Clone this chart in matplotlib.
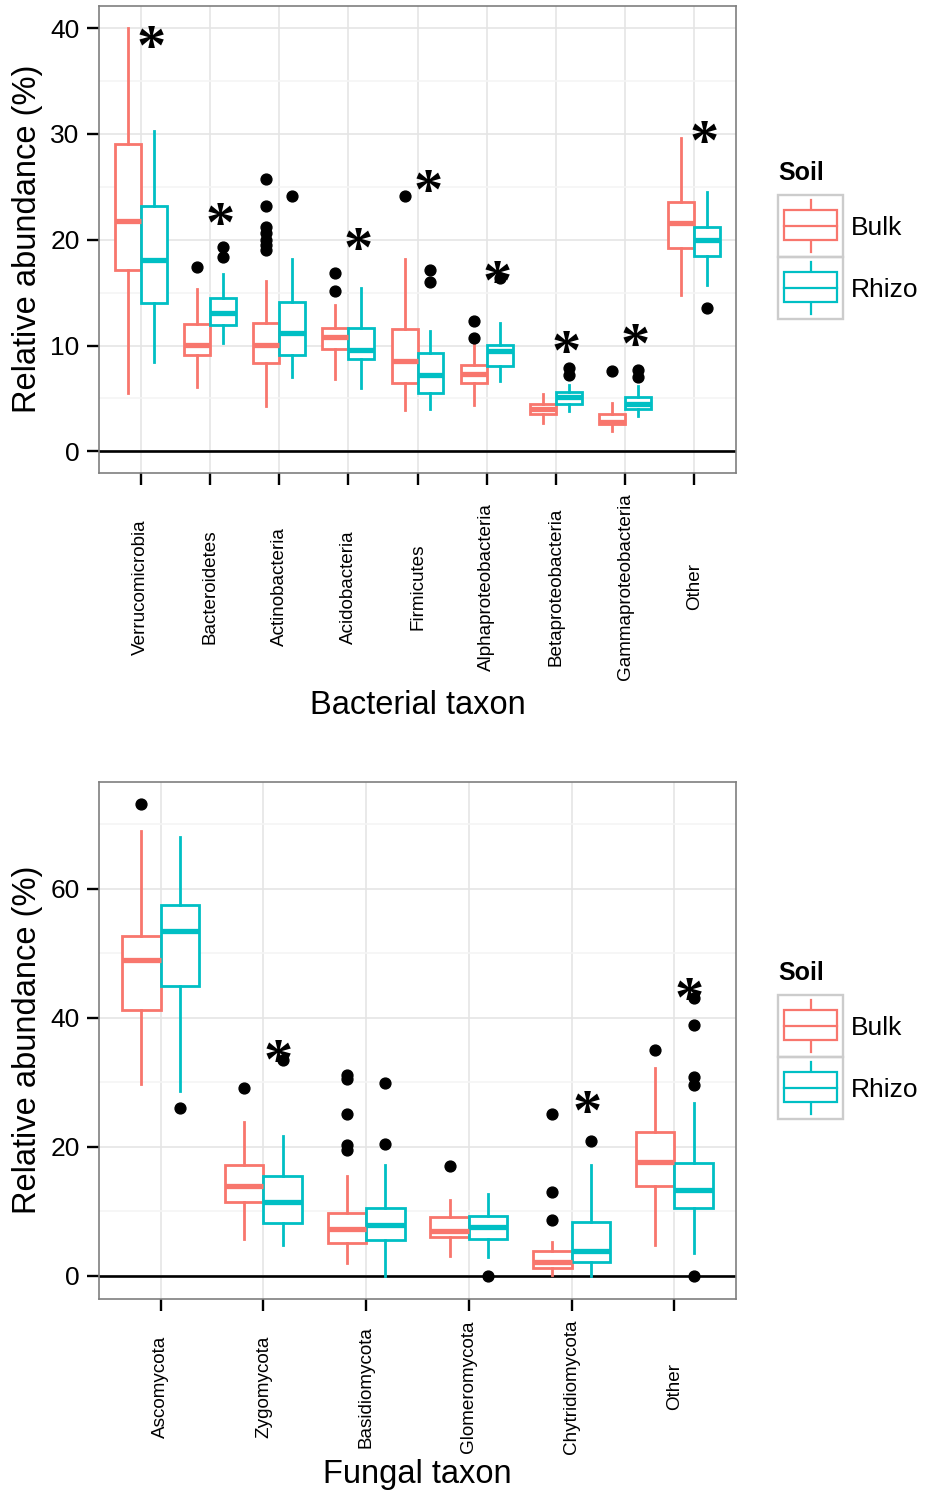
import numpy as np
import matplotlib
matplotlib.use("Agg")
import matplotlib.pyplot as plt
from matplotlib.patches import Rectangle
from matplotlib.transforms import ScaledTranslation

plt.rcParams['font.family'] = ['Liberation Sans', 'DejaVu Sans']

# ---------------- data ----------------
soil_groups = ['Bulk', 'Rhizo']
soil_colors = ['#F8766D', '#00BFC4']

bact_taxa = ['Verrucomicrobia', 'Bacteroidetes', 'Actinobacteria', 'Acidobacteria',
             'Firmicutes', 'Alphaproteobacteria', 'Betaproteobacteria',
             'Gammaproteobacteria', 'Other']
bact_bulk_lo  = [5.5, 6.1, 4.3, 6.8, 3.9, 4.35, 2.7, 1.95, 14.8]
bact_bulk_q1  = [17.1, 9.1, 8.35, 9.7, 6.5, 6.5, 3.5, 2.55, 19.2]
bact_bulk_med = [21.8, 10.1, 10.1, 10.85, 8.5, 7.35, 4.0, 2.8, 21.55]
bact_bulk_q3  = [29.05, 12.0, 12.1, 11.7, 11.6, 8.2, 4.45, 3.5, 23.55]
bact_bulk_hi  = [40.0, 15.3, 16.1, 13.8, 18.2, 10.2, 5.4, 4.6, 29.6]
bact_bulk_out = [[], [17.4], [25.7, 23.2, 21.2, 20.6, 20.0, 19.5, 19.0], [16.9, 15.2],
                 [24.1], [12.3, 10.7], [], [7.55], []]
bact_rhizo_lo  = [8.4, 10.2, 7.0, 6.0, 4.0, 6.65, 3.8, 3.35, 15.7]
bact_rhizo_q1  = [14.0, 11.9, 9.1, 8.7, 5.5, 8.1, 4.5, 4.05, 18.5]
bact_rhizo_med = [18.1, 13.05, 11.2, 9.6, 7.25, 9.5, 5.1, 4.5, 20.0]
bact_rhizo_q3  = [23.2, 14.5, 14.15, 11.7, 9.3, 10.1, 5.6, 5.1, 21.25]
bact_rhizo_hi  = [30.3, 16.75, 18.2, 15.4, 11.4, 12.1, 6.3, 6.2, 24.5]
bact_rhizo_out = [[], [19.3, 18.4], [24.1], [], [17.1, 16.0], [16.4], [7.9, 7.2],
                  [7.65, 7.0], [13.55]]
bact_sig = [39.1, 22.4, None, 20.0, 25.5, 16.9, 10.3, 10.9, 30.1]

fung_taxa = ['Ascomycota', 'Zygomycota', 'Basidiomycota', 'Glomeromycota',
             'Chytridiomycota', 'Other']
fung_bulk_lo  = [29.7, 5.7, 2.0, 3.15, 0.1, 4.8]
fung_bulk_q1  = [41.2, 11.5, 5.05, 5.95, 1.2, 13.85]
fung_bulk_med = [48.9, 14.0, 7.3, 6.9, 2.2, 17.7]
fung_bulk_q3  = [52.7, 17.2, 9.7, 9.2, 3.8, 22.3]
fung_bulk_hi  = [68.9, 23.8, 15.4, 11.7, 5.3, 32.2]
fung_bulk_out = [[73.1], [29.1], [31.1, 30.5, 25.1, 20.3, 19.5], [16.95],
                 [25.0, 13.0, 8.7], [35.0]]
fung_rhizo_lo  = [28.7, 4.8, 0.0, 3.0, 0.0, 3.5]
fung_rhizo_q1  = [44.9, 8.2, 5.6, 5.7, 2.1, 10.5]
fung_rhizo_med = [53.4, 11.5, 7.9, 7.55, 3.8, 13.3]
fung_rhizo_q3  = [57.4, 15.4, 10.5, 9.3, 8.4, 17.5]
fung_rhizo_hi  = [68.0, 21.6, 17.2, 12.65, 17.2, 26.8]
fung_rhizo_out = [[26.0], [33.5], [29.9, 20.4], [0.0], [20.9],
                  [43.0, 38.9, 30.8, 29.5, 0.0]]
fung_sig = [None, 34.8, None, None, 26.8, 44.3]

# ---------------- figure ----------------
W, H = 926, 1492
DPI = 100
fig = plt.figure(figsize=(W / DPI, H / DPI), dpi=DPI)


def px_axes(l, t, r, b):
    return fig.add_axes([l / W, 1 - b / H, (r - l) / W, (b - t) / H])


def make_stats(taxa, lo, q1, med, q3, hi, out):
    return [dict(label=t, whislo=a, q1=b, med=c, q3=d, whishi=e, fliers=np.array(f))
            for t, a, b, c, d, e, f in zip(taxa, lo, q1, med, q3, hi, out)]


def draw_panel(ax, taxa, bulk, rhizo, sig, ylim, majors, minors, xlabel, title_px):
    n = len(taxa)
    pos = np.arange(1, n + 1)
    dodge = 0.1875
    ax.set_xlim(0.4, n + 0.6)
    ax.set_ylim(*ylim)
    ax.set_yticks(majors)
    ax.set_yticks(minors, minor=True)
    ax.set_xticks(pos)
    ax.set_xticklabels([])
    ax.grid(True, which='major', color='#E5E5E5', linewidth=1.2, zorder=0)
    ax.grid(True, which='minor', axis='y', color='#F5F5F5', linewidth=1.2, zorder=0)
    ax.set_axisbelow(True)
    ax.axhline(0, color='black', linewidth=1.9, zorder=1.5)
    for stats, off, col in ((bulk, -dodge, soil_colors[0]), (rhizo, dodge, soil_colors[1])):
        ax.bxp(stats, positions=pos + off, widths=0.375, patch_artist=True,
               showcaps=False, manage_ticks=False,
               boxprops=dict(facecolor='white', edgecolor=col, linewidth=2.0),
               whiskerprops=dict(color=col, linewidth=2.0),
               medianprops=dict(color=col, linewidth=3.8, solid_capstyle='butt'),
               flierprops=dict(marker='o', markerfacecolor='black',
                               markeredgecolor='black', markersize=7.8),
               zorder=2)
    for p, s in zip(pos, sig):
        if s is not None:
            ax.annotate('*', xy=(p + dodge - 0.04, s), xytext=(0, -19),
                        textcoords='offset points', ha='center', va='baseline',
                        fontsize=42, family='Liberation Serif', fontweight='bold',
                        zorder=5)
    for sp in ax.spines.values():
        sp.set_color('#7F7F7F')
        sp.set_linewidth(1.2)
    ax.tick_params(axis='both', which='major', length=8.5, width=1.7, color='black',
                   labelsize=19, pad=5.5)
    ax.tick_params(axis='both', which='minor', length=0)
    ax.set_ylabel('Relative abundance (%)', fontsize=23.5)
    ax.yaxis.set_label_coords(-0.088, 0.5)

    # rotated category labels, centred in the space of the longest label
    renderer = fig.canvas.get_renderer()
    texts = [ax.text(p, 0, t, transform=ax.get_xaxis_transform(), rotation=90,
                     ha='center', va='center', fontsize=13.6) for p, t in zip(pos, taxa)]
    maxh = max(t.get_window_extent(renderer).height for t in texts)
    off_px = 12 + 9 + maxh / 2
    for t in texts:
        t.set_transform(ax.get_xaxis_transform() +
                        ScaledTranslation(0, -off_px / DPI, fig.dpi_scale_trans))
    ax.text(0.5, 0, xlabel, transform=ax.transAxes +
            ScaledTranslation(0, -title_px / DPI, fig.dpi_scale_trans),
            ha='center', va='center', fontsize=23.5)


def draw_legend(top_px):
    cw, ch = 65, 62
    x0 = 778
    lax = px_axes(x0 - 2, top_px - 2, x0 + cw + 2, top_px + 2 * ch + 2)
    lax.set_xlim(-2, cw + 2)
    lax.set_ylim(2 * ch + 2, -2)
    lax.axis('off')
    for i, (g, c) in enumerate(zip(soil_groups, soil_colors)):
        y0 = i * ch
        lax.add_patch(Rectangle((0, y0), cw, ch, fill=False, ec='#CCCCCC', lw=1.7,
                                zorder=1))
        lax.plot([cw / 2, cw / 2], [y0 + 5, y0 + ch - 5], color=c, lw=1.6, zorder=2)
        lax.add_patch(Rectangle((6, y0 + 15), cw - 12, 30, fc='white', ec=c, lw=1.6,
                                zorder=3))
        lax.plot([6, cw - 6], [y0 + 31, y0 + 31], color=c, lw=1.6, zorder=4)
        fig.text(851 / W, 1 - (top_px + y0 + 33) / H, g, ha='left', va='center',
                 fontsize=19)
    fig.text(x0 / W, 1 - (top_px - 22) / H, 'Soil', ha='left', va='center',
             fontsize=18, fontweight='bold')


ax1 = px_axes(99, 6, 736, 472.5)
draw_panel(ax1, bact_taxa,
           make_stats(bact_taxa, bact_bulk_lo, bact_bulk_q1, bact_bulk_med, bact_bulk_q3,
                      bact_bulk_hi, bact_bulk_out),
           make_stats(bact_taxa, bact_rhizo_lo, bact_rhizo_q1, bact_rhizo_med, bact_rhizo_q3,
                      bact_rhizo_hi, bact_rhizo_out),
           bact_sig, (-2.0, 42.1), [0, 10, 20, 30, 40], [5, 15, 25, 35],
           'Bacterial taxon', 233)

ax2 = px_axes(99, 782, 736, 1298.5)
draw_panel(ax2, fung_taxa,
           make_stats(fung_taxa, fung_bulk_lo, fung_bulk_q1, fung_bulk_med, fung_bulk_q3,
                      fung_bulk_hi, fung_bulk_out),
           make_stats(fung_taxa, fung_rhizo_lo, fung_rhizo_q1, fung_rhizo_med, fung_rhizo_q3,
                      fung_rhizo_hi, fung_rhizo_out),
           fung_sig, (-3.5, 76.5), [0, 20, 40, 60], [10, 30, 50, 70],
           'Fungal taxon', 176)

draw_legend(195)
draw_legend(995)

fig.savefig('out.png', dpi=DPI)
